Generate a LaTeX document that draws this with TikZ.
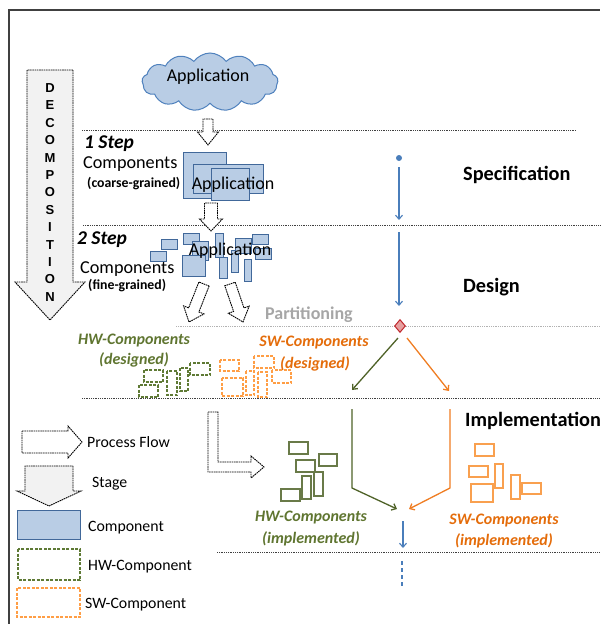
\documentclass[tikz,border=0pt]{standalone}
\usepackage{fontspec}
\setmainfont{Carlito}
\newfontfamily\arialfont{Liberation Sans}
\usetikzlibrary{shapes.symbols,shapes.geometric,arrows.meta,calc}
\definecolor{compfill}{HTML}{B9CDE5}
\definecolor{compdraw}{HTML}{41689A}
\definecolor{cloudraw}{HTML}{4F81BD}
\definecolor{flowblue}{HTML}{4A7EBB}
\definecolor{hwgreen}{HTML}{4F6228}
\definecolor{hwtext}{HTML}{5F7530}
\definecolor{hwdash}{HTML}{5F7A35}
\definecolor{swline}{HTML}{EF7D22}
\definecolor{swtext}{HTML}{E46C0A}
\definecolor{swrect}{HTML}{F9A04F}
\definecolor{swdash}{HTML}{FF9E45}
\definecolor{sepgray}{HTML}{404040}
\definecolor{partgray}{HTML}{A6A6A6}
\definecolor{stagefill}{HTML}{F2F2F2}
\definecolor{diafill}{HTML}{E6A0A0}
\definecolor{diadraw}{HTML}{C0282D}
\newcommand\fs[1]{\fontsize{#1}{#1}\selectfont}
\newcommand{\flowarr}[6]{%
  \coordinate (fb) at ($(#3)!#6!(#2)$);
  \draw[#1] ($(#2)!#4!90:(#3)$) -- ($(fb)!#4!90:(#3)$) -- ($(fb)!#5!90:(#3)$) -- (#3)
    -- ($(fb)!#5!-90:(#3)$) -- ($(fb)!#4!-90:(#3)$) -- ($(#2)!#4!-90:(#3)$) -- cycle;
}
\tikzset{
  pflow/.style={draw=black, dash pattern=on 1.6pt off 0.7pt, line width=0.9pt, fill=white},
  stagearrow/.style={draw=black, dash pattern=on 1.6pt off 0.7pt, line width=0.9pt, fill=stagefill},
  sepline/.style={draw=sepgray, dash pattern=on 1pt off 0.8pt, line width=0.7pt},
  comp/.style={draw=compdraw, fill=compfill, line width=1pt},
  hwd/.style={draw=hwdash, dash pattern=on 3pt off 1.5pt, line width=1.2pt},
  swd/.style={draw=swdash, dash pattern=on 3pt off 1.5pt, line width=1.2pt},
  hwi/.style={draw=hwgreen!85, line width=1.1pt},
  swi/.style={draw=swrect, line width=1.1pt},
  barb/.style={-{Straight Barb[length=4pt,width=7pt]}},
  blueflow/.style={draw=flowblue, line width=1.1pt, barb},
  lbl/.style={inner sep=0pt, anchor=west},
  ctr/.style={inner sep=0pt},
}
\begin{document}
\begin{tikzpicture}[x=1pt,y=-1pt]
\useasboundingbox (0,0) rectangle (600,624);
% frame
\draw[draw=black!75, line width=1.2pt] (9,624) -- (9,10) -- (600,10);

% separators
\draw[sepline] (82,130) -- (576,130);
\draw[sepline] (83,225) -- (600,225);
\draw[sepline, draw=black!30] (176,326) -- (600,326);
\draw[sepline] (82,398) -- (600,398);
\draw[sepline] (217,552) -- (600,552);

% decomposition arrow
\coordinate (decs) at (50,70); \coordinate (dece) at (50,320);
\flowarr{stagearrow}{decs}{dece}{23pt}{35pt}{38pt}
\foreach \l [count=\i from 0] in {D,E,C,O,M,P,O,S,I,T,I,O,N}
  \node[ctr, font=\arialfont\fs{13}\bfseries] (dl\i) at (50,{88+17.4*\i}) {\l};

% cloud
\node[cloud, cloud puffs=13, cloud puff arc=110, cloud ignores aspect, draw=cloudraw, fill=compfill,
      line width=1pt, minimum width=136pt, minimum height=58pt, inner sep=0pt] (cloud) at (210,82) {};
\node[ctr, font=\fs{18}] (apptext) at (208,77) {Application};

% process arrows
\coordinate (a1s) at (208,119); \coordinate (a1e) at (208,145);
\flowarr{pflow}{a1s}{a1e}{5pt}{10.5pt}{13pt}
\coordinate (a2s) at (211,203); \coordinate (a2e) at (211,231);
\flowarr{pflow}{a2s}{a2e}{6.5pt}{11.5pt}{12pt}
\coordinate (a3s) at (204,284); \coordinate (a3e) at (189,322);
\flowarr{pflow}{a3s}{a3e}{5.5pt}{11pt}{13pt}
\coordinate (a4s) at (230,284); \coordinate (a4e) at (243,322);
\flowarr{pflow}{a4s}{a4e}{5.5pt}{11pt}{13pt}
\draw[pflow] (208,412) -- (218,412) -- (218,462) -- (251,462) -- (251,456) -- (264,467)
  -- (251,478) -- (251,472) -- (208,472) -- cycle;

% step labels
\node[lbl, font=\fs{19.5}\bfseries\itshape] (s1) at (84,144) {1 Step};
\node[lbl, font=\fs{18.2}] (c1) at (83,164.5) {Components};
\node[lbl, font=\fs{13.8}\bfseries] (cg1) at (87,184) {(coarse-grained)};
\node[lbl, font=\fs{19.5}\bfseries\itshape] (s2) at (77,240) {2 Step};
\node[lbl, font=\fs{18.2}] (c2) at (80,269) {Components};
\node[lbl, font=\fs{13.8}\bfseries] (fg) at (88,285.5) {(fine-grained)};

% coarse components
\draw[comp] (183,152) rectangle (226,198);
\draw[comp] (193,164) rectangle (263,193);
\draw[comp] (211,168) rectangle (249,200);
\node[ctr, font=\fs{18}] (capp) at (233,185) {Application};

% fine components
\draw[comp] (150,251) rectangle (166,261);
\draw[comp] (161,239) rectangle (177,249);
\draw[comp] (183,233) rectangle (199,244);
\draw[comp] (192,241) rectangle (208,260);
\draw[comp] (182,255) rectangle (205,276);
\draw[comp] (215,233) rectangle (223,257);
\draw[comp] (219,257) rectangle (227,278);
\draw[comp] (231,250) rectangle (238,272);
\draw[comp] (235,238) rectangle (251,253);
\draw[comp] (244,259) rectangle (251,281);
\draw[comp] (252,234) rectangle (268,244);
\draw[comp] (255,248) rectangle (271,259);
\node[ctr, font=\fs{18}] (fapp) at (230,251) {Application};

% stage labels
\node[lbl, font=\fs{20.3}\bfseries] (spec) at (463,175) {Specification};
\node[lbl, font=\fs{20.3}\bfseries] (design) at (463,287.5) {Design};
\node[lbl, font=\fs{20.3}\bfseries] (impl) at (465,421) {Implementation};
\node[lbl, font=\fs{18}\bfseries, text=partgray] (part) at (265,315) {Partitioning};

% blue timeline
\node[circle, fill=flowblue, inner sep=0pt, minimum size=6pt] (dot) at (399,158) {};
\coordinate (b1s) at (399,167); \coordinate (b1e) at (399,220);
\draw[blueflow] (b1s) -- (b1e);
\coordinate (b2s) at (399,232); \coordinate (b2e) at (399,306);
\draw[blueflow] (b2s) -- (b2e);
\node[diamond, fill=diafill, draw=diadraw, line width=1pt, inner sep=0pt, minimum width=11pt, minimum height=13pt] (dia) at (400,326) {};
\coordinate (gs) at (398,338); \coordinate (ge) at (352,390);
\coordinate (os) at (407,338); \coordinate (oe) at (449,391);
\draw[draw=hwgreen, line width=1.3pt, barb] (gs) -- (ge);
\draw[draw=swline, line width=1.3pt, barb] (os) -- (oe);
\coordinate (gl1) at (352,409); \coordinate (gl2) at (352,488); \coordinate (gl3) at (397,509);
\coordinate (ol1) at (450,409); \coordinate (ol2) at (450,488); \coordinate (ol3) at (409,509);
\draw[draw=hwgreen, line width=1.3pt, barb] (gl1) -- (gl2) -- (gl3);
\draw[draw=swline, line width=1.3pt, barb] (ol1) -- (ol2) -- (ol3);
\coordinate (b3s) at (403,521); \coordinate (b3e) at (403,548);
\draw[blueflow] (b3s) -- (b3e);
\coordinate (b4s) at (402,561); \coordinate (b4e) at (402,588);
\draw[draw=flowblue, line width=1.1pt, dash pattern=on 4pt off 3pt] (b4s) -- (b4e);

% designed labels
\node[ctr, font=\fs{16}\bfseries\itshape, text=hwtext] (hwd1) at (134,341) {HW-Components};
\node[ctr, font=\fs{16}\bfseries\itshape, text=hwtext] (hwd2) at (134,360) {(designed)};
\node[ctr, font=\fs{16}\bfseries\itshape, text=swtext] (swd1) at (314,343) {SW-Components};
\node[ctr, font=\fs{16}\bfseries\itshape, text=swtext] (swd2) at (315,364) {(designed)};

% designed HW rects
\draw[hwd] (144,370) rectangle (163,382);
\draw[hwd] (139,385) rectangle (158,397);
\draw[hwd] (167,371) rectangle (177,395);
\draw[hwd] (180,368) rectangle (188,391);
\draw[hwd] (190,363) rectangle (210,375);
% designed SW rects
\draw[swd] (220,360) rectangle (239,371);
\draw[swd] (222,378) rectangle (243,396);
\draw[swd] (246,371) rectangle (254,395);
\draw[swd] (254,356) rectangle (274,368);
\draw[swd] (258,372) rectangle (267,397);
\draw[swd] (272,370) rectangle (291,383);

% implemented HW rects
\draw[hwi] (289,442) rectangle (308,454);
\draw[hwi] (296,460) rectangle (315,472);
\draw[hwi] (319,454) rectangle (337,466);
\draw[hwi] (302,476) rectangle (311,499);
\draw[hwi] (314,472) rectangle (323,496);
\draw[hwi] (281,489) rectangle (300,501);
% implemented SW rects
\draw[swi] (475,444) rectangle (494,456);
\draw[swi] (469,466) rectangle (488,477);
\draw[swi] (495,464) rectangle (503,488);
\draw[swi] (471,484) rectangle (493,502);
\draw[swi] (511,475) rectangle (520,499);
\draw[swi] (522,483) rectangle (541,494);

% implemented labels
\node[ctr, font=\fs{16}\bfseries\itshape, text=hwtext] (hwi1) at (311,518) {HW-Components};
\node[ctr, font=\fs{16}\bfseries\itshape, text=hwtext] (hwi2) at (311,539) {(implemented)};
\node[ctr, font=\fs{16}\bfseries\itshape, text=swtext] (swi1) at (504,521) {SW-Components};
\node[ctr, font=\fs{16}\bfseries\itshape, text=swtext] (swi2) at (504,541) {(implemented)};

% legend
\coordinate (lps) at (22,442); \coordinate (lpe) at (82,442);
\flowarr{pflow}{lps}{lpe}{11pt}{16pt}{14pt}
\node[lbl, font=\fs{15.8}] (lpf) at (87,442) {Process Flow};
\coordinate (lss) at (49,466); \coordinate (lse) at (49,506);
\flowarr{stagearrow}{lss}{lse}{24pt}{32pt}{15pt}
\node[lbl, font=\fs{15.8}] (lst) at (92,484) {Stage};
\draw[comp] (17,510) rectangle (80,539);
\node[lbl, font=\fs{15.8}] (lco) at (88,528) {Component};
\draw[hwd] (18,549) rectangle (80,580);
\node[lbl, font=\fs{15.8}] (lhw) at (88,567) {HW-Component};
\draw[swd] (17,588) rectangle (80,617);
\node[lbl, font=\fs{15.8}] (lsw) at (85,605) {SW-Component};
\end{tikzpicture}
\end{document}
